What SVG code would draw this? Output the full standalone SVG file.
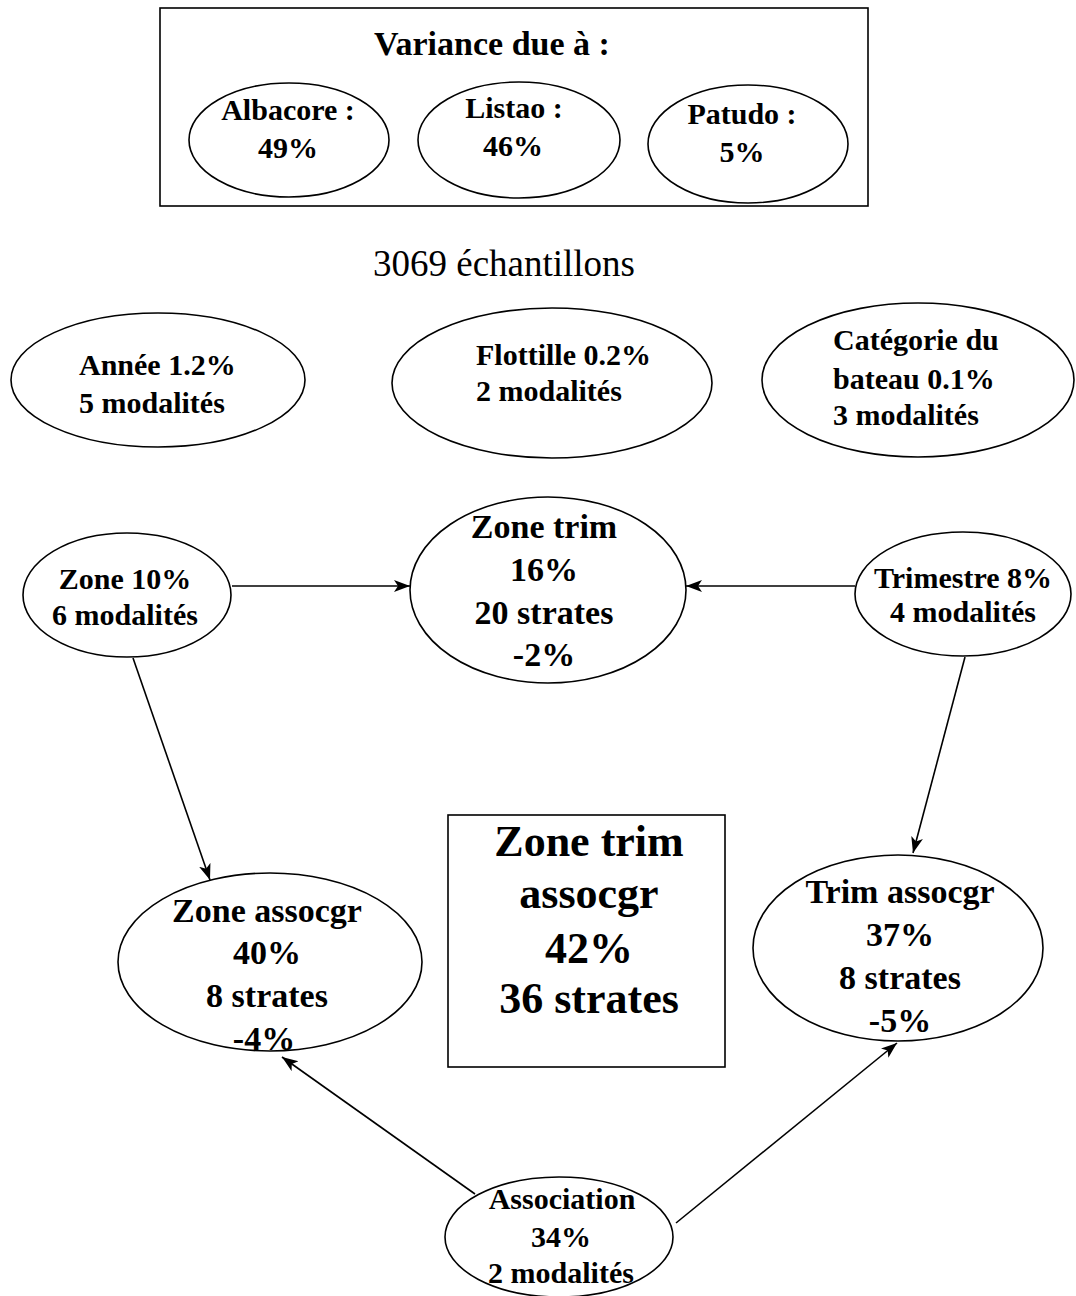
<svg xmlns="http://www.w3.org/2000/svg" width="1076" height="1296" viewBox="0 0 1076 1296">
<style>
.s{fill:none;stroke:#000;stroke-width:1.6}
.t{font-family:"Liberation Serif","Times New Roman",serif;font-weight:bold;fill:#000;text-anchor:middle}
.l{text-anchor:start}
.f30{font-size:30px}
.f34{font-size:34px}
.f44{font-size:44px}
.c line{stroke:#000;stroke-width:1.6;marker-end:url(#ah)}
</style>
<defs>
<marker id="ah" markerUnits="userSpaceOnUse" markerWidth="20" markerHeight="14" refX="16" refY="6" orient="auto">
<path d="M0,0 L16,6 L0,12 L4,6 Z" fill="#000"/>
</marker>
</defs>
<rect x="0" y="0" width="1076" height="1296" fill="#fff"/>

<g id="variance">
<rect class="s" x="160" y="8" width="708" height="198"/>
<text class="t f34" x="492" y="55">Variance due à :</text>
</g>
<g id="albacore">
<ellipse class="s" cx="289" cy="140" rx="100" ry="57"/>
<text class="t f30" x="288" y="120">Albacore :</text>
<text class="t f30" x="288" y="158">49%</text>
</g>
<g id="listao">
<ellipse class="s" cx="519" cy="140" rx="101" ry="58"/>
<text class="t f30" x="514" y="118">Listao :</text>
<text class="t f30" x="513" y="156">46%</text>
</g>
<g id="patudo">
<ellipse class="s" cx="748" cy="144" rx="100" ry="59"/>
<text class="t f30" x="742" y="124">Patudo :</text>
<text class="t f30" x="742" y="162">5%</text>
</g>

<text id="echantillons" x="504" y="276" font-family="Liberation Serif,'Times New Roman',serif" font-size="37" text-anchor="middle" fill="#000">3069 échantillons</text>

<g id="annee">
<ellipse class="s" cx="158" cy="380" rx="147" ry="67"/>
<text class="t l f30" x="79" y="375">Année 1.2%</text>
<text class="t l f30" x="79" y="413">5 modalités</text>
</g>
<g id="flottille">
<ellipse class="s" cx="552" cy="383" rx="160" ry="75"/>
<text class="t l f30" x="476" y="365">Flottille 0.2%</text>
<text class="t l f30" x="476" y="401">2 modalités</text>
</g>
<g id="categorie">
<ellipse class="s" cx="918" cy="380" rx="156" ry="77"/>
<text class="t l f30" x="833" y="350">Catégorie du</text>
<text class="t l f30" x="833" y="389">bateau 0.1%</text>
<text class="t l f30" x="833" y="425">3 modalités</text>
</g>

<g id="zone">
<ellipse class="s" cx="127" cy="595" rx="104" ry="62"/>
<text class="t f30" x="125" y="589">Zone 10%</text>
<text class="t f30" x="125" y="625">6 modalités</text>
</g>
<g id="zonetrim">
<ellipse class="s" cx="548" cy="590" rx="138" ry="93"/>
<text class="t f34" x="544" y="538">Zone trim</text>
<text class="t f34" x="544" y="581">16%</text>
<text class="t f34" x="544" y="624">20 strates</text>
<text class="t f34" x="544" y="666">-2%</text>
</g>
<g id="trimestre">
<ellipse class="s" cx="963" cy="594" rx="108" ry="62"/>
<text class="t f30" x="963" y="588">Trimestre 8%</text>
<text class="t f30" x="963" y="622">4 modalités</text>
</g>

<g id="zoneassocgr">
<ellipse class="s" cx="270" cy="962" rx="152" ry="89"/>
<text class="t f34" x="267" y="922">Zone assocgr</text>
<text class="t f34" x="267" y="964">40%</text>
<text class="t f34" x="267" y="1007">8 strates</text>
<text class="t f34" x="264" y="1050">-4%</text>
</g>
<g id="centre">
<rect class="s" x="448" y="815" width="277" height="252"/>
<text class="t f44" x="589" y="856">Zone trim</text>
<text class="t f44" x="589" y="908">assocgr</text>
<text class="t f44" x="589" y="963">42%</text>
<text class="t f44" x="589" y="1013">36 strates</text>
</g>
<g id="trimassocgr">
<ellipse class="s" cx="898" cy="948" rx="145" ry="93"/>
<text class="t f34" x="900" y="903">Trim assocgr</text>
<text class="t f34" x="900" y="946">37%</text>
<text class="t f34" x="900" y="989">8 strates</text>
<text class="t f34" x="900" y="1032">-5%</text>
</g>

<g id="association">
<ellipse class="s" cx="559" cy="1237" rx="114" ry="60"/>
<text class="t f30" x="562" y="1209">Association</text>
<text class="t f30" x="561" y="1247">34%</text>
<text class="t f30" x="561" y="1283">2 modalités</text>
</g>

<g id="connectors" class="c">
<line x1="232" y1="586" x2="410" y2="586"/>
<line x1="855" y1="586" x2="686" y2="586"/>
<line x1="133" y1="658" x2="210" y2="880"/>
<line x1="965" y1="657" x2="913" y2="853"/>
<line x1="475" y1="1194" x2="282" y2="1057"/>
<line x1="676" y1="1223" x2="897" y2="1043"/>
</g>
</svg>
